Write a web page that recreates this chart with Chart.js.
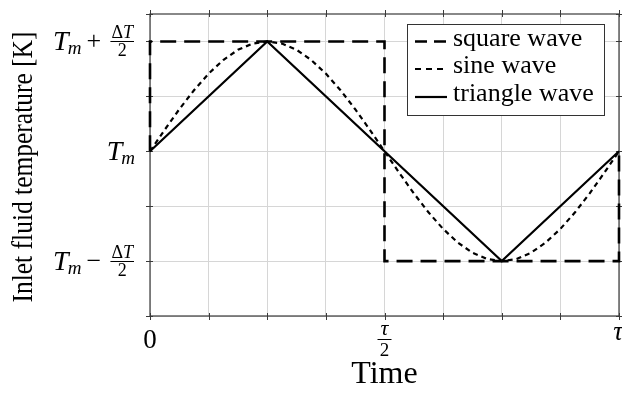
<!DOCTYPE html>
<html><head><meta charset="utf-8">
<script src="https://cdn.jsdelivr.net/npm/chart.js@4.4.0/dist/chart.umd.min.js"></script>
<style>html,body{margin:0;padding:0;background:#fff}canvas{display:block}</style>
</head><body>
<canvas id="c" width="622" height="394"></canvas>
<script>
// ---- data ----
const seriesNames = ['square wave', 'sine wave', 'triangle wave'];
const squareX = [0, 0, 0.5, 0.5, 1, 1];
const squareY = [0, 1, 1, -1, -1, 0];
const sineX = [0, 0.03125, 0.0625, 0.09375, 0.125, 0.15625, 0.1875, 0.21875, 0.25, 0.28125, 0.3125, 0.34375, 0.375, 0.40625, 0.4375, 0.46875, 0.5, 0.53125, 0.5625, 0.59375, 0.625, 0.65625, 0.6875, 0.71875, 0.75, 0.78125, 0.8125, 0.84375, 0.875, 0.90625, 0.9375, 0.96875, 1];
const sineY = [0, 0.195, 0.383, 0.556, 0.707, 0.831, 0.924, 0.981, 1, 0.981, 0.924, 0.831, 0.707, 0.556, 0.383, 0.195, 0, -0.195, -0.383, -0.556, -0.707, -0.831, -0.924, -0.981, -1, -0.981, -0.924, -0.831, -0.707, -0.556, -0.383, -0.195, 0];
const triangleX = [0, 0.25, 0.75, 1];
const triangleY = [0, 1, -1, 0];
const xGridValues = [0, 0.125, 0.25, 0.375, 0.5, 0.625, 0.75, 0.875, 1];
const yGridValues = [-1.5, -1, -0.5, 0, 0.5, 1];
const xTickValues = [0, 0.5, 1];
const xTickLabels = [{text: '0'}, {num: 'τ', den: '2'}, {text: 'τ', italic: true}];
const yTickValues = [1, 0, -1];
const yTickLabels = [
  {main: 'T', sub: 'm', op: '+', num: ['Δ', 'T'], den: '2'},
  {main: 'T', sub: 'm'},
  {main: 'T', sub: 'm', op: '−', num: ['Δ', 'T'], den: '2'}
];
const xTitle = 'Time';
const yTitle = 'Inlet fluid temperature [K]';

const toPts = (xs, ys) => xs.map((x, i) => ({x: x, y: ys[i]}));
const SERIF = '"Liberation Serif", "Times New Roman", serif';
const AXC = '#3a3a3a';

function txt(ctx, s, font, x, y, align) {
  ctx.save();
  ctx.font = font; ctx.textAlign = align || 'left'; ctx.textBaseline = 'alphabetic';
  ctx.fillStyle = '#000'; ctx.fillText(s, x, y); ctx.restore();
}
function tw(ctx, s, font) { ctx.save(); ctx.font = font; const w = ctx.measureText(s).width; ctx.restore(); return w; }

const framePlugin = {
  id: 'frame',
  beforeDatasetsDraw(chart) {
    const {ctx, chartArea: a, scales: {x, y}} = chart;
    ctx.save();
    ctx.strokeStyle = AXC; ctx.lineWidth = 1.2;
    ctx.strokeRect(a.left, a.top, a.right - a.left, a.bottom - a.top);
    ctx.lineWidth = 1;
    ctx.beginPath();
    xGridValues.forEach(v => {
      const px = Math.round(x.getPixelForValue(v)) + 0.5;
      ctx.moveTo(px, a.bottom - 3); ctx.lineTo(px, a.bottom + 4);
      ctx.moveTo(px, a.top - 4); ctx.lineTo(px, a.top + 3);
    });
    yGridValues.concat([1.25]).forEach(v => {
      const py = Math.round(y.getPixelForValue(v)) + 0.5;
      ctx.moveTo(a.left - 4, py); ctx.lineTo(a.left + 3, py);
      ctx.moveTo(a.right - 3, py); ctx.lineTo(a.right + 4, py);
    });
    ctx.stroke();
    ctx.restore();
  },
  afterDraw(chart) {
    const {ctx, chartArea: a, scales: {x, y}} = chart;
    // y tick labels
    yTickValues.forEach((v, i) => {
      const L = yTickLabels[i];
      const Y = y.getPixelForValue(v);
      const fT = 'italic 28px ' + SERIF, fS = 'italic 19px ' + SERIF;
      let subRight;
      if (L.num) {
        const R = 134;
        const fN = '18px ' + SERIF, fNi = 'italic 18px ' + SERIF;
        const nw1 = tw(ctx, L.num[0], fN), nw2 = tw(ctx, L.num[1], fNi);
        const numW = nw1 + nw2, denW = tw(ctx, L.den, fN);
        const W = Math.max(numW, denW) + 2;
        const fl = R - W;
        ctx.save(); ctx.strokeStyle = '#000'; ctx.lineWidth = 1;
        ctx.beginPath(); ctx.moveTo(fl, Math.round(Y) + 0.5); ctx.lineTo(R, Math.round(Y) + 0.5); ctx.stroke(); ctx.restore();
        const nx = fl + (W - numW) / 2;
        txt(ctx, L.num[0], fN, nx, Y - 3);
        txt(ctx, L.num[1], fNi, nx + nw1, Y - 3);
        txt(ctx, L.den, fN, fl + W / 2, Y + 15, 'center');
        txt(ctx, L.op, '26px ' + SERIF, fl - 16.5, Y + 8, 'center');
        subRight = fl - 29;
      } else {
        subRight = 135;
      }
      const mW = tw(ctx, L.sub, fS);
      const mx = subRight - mW;
      const Tw = tw(ctx, L.main, fT);
      txt(ctx, L.sub, fS, mx, Y + 13);
      txt(ctx, L.main, fT, mx - Tw + 1, Y + 9);
    });
    // x tick labels
    xTickValues.forEach((v, i) => {
      const L = xTickLabels[i];
      const X = x.getPixelForValue(v);
      if (L.num) {
        txt(ctx, L.num, 'italic 22px ' + SERIF, X, 335, 'center');
        ctx.save(); ctx.strokeStyle = '#000'; ctx.lineWidth = 1;
        ctx.beginPath(); ctx.moveTo(X - 7, 339.5); ctx.lineTo(X + 7, 339.5); ctx.stroke(); ctx.restore();
        txt(ctx, L.den, '19px ' + SERIF, X, 356, 'center');
      } else if (L.italic) {
        txt(ctx, L.text, 'italic 27px ' + SERIF, X - 1, 340, 'center');
      } else {
        txt(ctx, L.text, '27px ' + SERIF, X, 348, 'center');
      }
    });
    // axis titles
    txt(ctx, xTitle, '32px ' + SERIF, (a.left + a.right) / 2, 383, 'center');
    ctx.save();
    ctx.font = '30px ' + SERIF;
    const w = ctx.measureText(yTitle).width;
    ctx.translate(32, 167); ctx.rotate(-Math.PI / 2); ctx.scale(271 / w, 1);
    ctx.textAlign = 'center'; ctx.textBaseline = 'alphabetic'; ctx.fillStyle = '#000';
    ctx.fillText(yTitle, 0, 0);
    ctx.restore();
    // legend
    ctx.save();
    ctx.fillStyle = '#fff'; ctx.fillRect(407, 24, 197, 91);
    ctx.strokeStyle = '#333'; ctx.lineWidth = 1; ctx.strokeRect(407.5, 24.5, 197, 91);
    const rows = [41.5, 69, 97];
    const legDash = [[12, 7], [6, 5], []];
    chart.data.datasets.forEach((ds, i) => {
      ctx.save();
      ctx.strokeStyle = ds.borderColor; ctx.lineWidth = ds.borderWidth;
      ctx.setLineDash(legDash[i]);
      ctx.beginPath(); ctx.moveTo(415, rows[i]); ctx.lineTo(447, rows[i]); ctx.stroke();
      ctx.restore();
      txt(ctx, ds.label, '26px ' + SERIF, 453, rows[i] + 4);
    });
    ctx.restore();
  }
};

new Chart(document.getElementById('c'), {
  type: 'scatter',
  data: {
    datasets: [
      {label: seriesNames[0], data: toPts(squareX, squareY), showLine: true, borderColor: '#000', borderWidth: 2.6, borderDash: [16, 8], pointRadius: 0, clip: false},
      {label: seriesNames[1], data: toPts(sineX, sineY), showLine: true, borderColor: '#000', borderWidth: 2.2, borderDash: [5, 4], pointRadius: 0, clip: false},
      {label: seriesNames[2], data: toPts(triangleX, triangleY), showLine: true, borderColor: '#000', borderWidth: 2.2, pointRadius: 0, clip: false}
    ]
  },
  options: {
    responsive: false, animation: false, devicePixelRatio: 1,
    layout: {padding: {left: 150, right: 3, top: 14, bottom: 78}},
    plugins: {legend: {display: false}, tooltip: {enabled: false}},
    scales: {
      x: {type: 'linear', min: 0, max: 1,
        afterBuildTicks: s => { s.ticks = xGridValues.map(v => ({value: v})); },
        ticks: {display: false}, grid: {color: '#d6d6d6', lineWidth: 1, drawTicks: false},
        border: {display: false}},
      y: {type: 'linear', min: -1.5, max: 1.25,
        afterBuildTicks: s => { s.ticks = yGridValues.map(v => ({value: v})); },
        ticks: {display: false}, grid: {color: '#d6d6d6', lineWidth: 1, drawTicks: false},
        border: {display: false}}
    }
  },
  plugins: [framePlugin]
});
</script>
</body></html>
